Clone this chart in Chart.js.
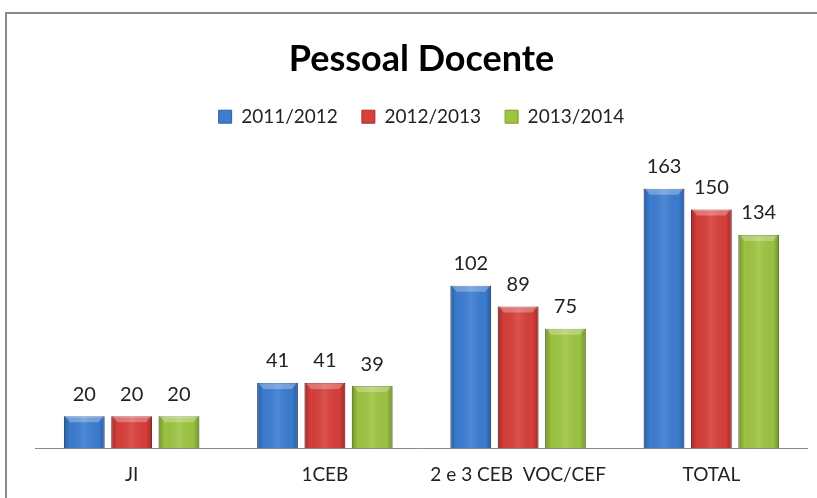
<!DOCTYPE html>
<html>
<head>
<meta charset="utf-8">
<script src="https://cdn.jsdelivr.net/npm/chart.js@4"></script>
<style>
  html, body { margin: 0; padding: 0; background: #fff; overflow: hidden; }
</style>
</head>
<body>
<canvas id="chart" width="817" height="498"></canvas>
<script>
const categories = ['JI', '1CEB', '2 e 3 CEB  VOC/CEF', 'TOTAL'];
const series2011 = [20, 41, 102, 163];
const series2012 = [20, 41, 89, 150];
const series2013 = [20, 39, 75, 134];
const seriesLabels = ['2011/2012', '2012/2013', '2013/2014'];
const colors = ['#3c7dd2', '#d83f3b', '#9dc542'];
const borders = ['#2c5f9f', '#a92e2b', '#789a2e'];

const font = 'Lato, Calibri, "Open Sans", sans-serif';

// grey frame of the chart object (only left and top edges are visible) and the baseline
const frame = {
  id: 'frame',
  beforeDraw(chart) {
    const ctx = chart.ctx;
    ctx.save();
    ctx.fillStyle = '#fff';
    ctx.fillRect(0, 0, chart.width, chart.height);
    ctx.strokeStyle = '#8a8a8a';
    ctx.lineWidth = 2;
    ctx.beginPath();
    ctx.moveTo(6, chart.height);
    ctx.lineTo(6, 13);
    ctx.lineTo(chart.width, 13);
    ctx.stroke();
    const a = chart.chartArea;
    ctx.lineWidth = 1;
    ctx.beginPath();
    ctx.moveTo(a.left, Math.round(a.bottom) + 0.5);
    ctx.lineTo(a.right, Math.round(a.bottom) + 0.5);
    ctx.stroke();
    ctx.restore();
  },
  afterDraw(chart) {
    // keep the area right of the plot clean
    const ctx = chart.ctx;
    const a = chart.chartArea;
    ctx.save();
    ctx.fillStyle = '#fff';
    ctx.fillRect(a.right + 0.5, 15, chart.width - a.right, a.bottom - 16);
    ctx.restore();
  }
};

// value labels over each bar
const valueLabels = {
  id: 'valueLabels',
  afterDatasetsDraw(chart) {
    const ctx = chart.ctx;
    ctx.save();
    ctx.font = '20px ' + font;
    ctx.fillStyle = '#222';
    ctx.textAlign = 'center';
    ctx.textBaseline = 'middle';
    chart.data.datasets.forEach((ds, i) => {
      chart.getDatasetMeta(i).data.forEach((bar, j) => {
        ctx.fillText(ds.data[j], bar.x, bar.y - 22);
      });
    });
    ctx.restore();
  }
};

// shading so the bars look rounded like the original
const barShade = {
  id: 'barShade',
  afterDatasetsDraw(chart) {
    const ctx = chart.ctx;
    ctx.save();
    chart.data.datasets.forEach((ds, i) => {
      chart.getDatasetMeta(i).data.forEach((bar) => {
        const l = bar.x - bar.width / 2, r = bar.x + bar.width / 2;
        const g = ctx.createLinearGradient(l, 0, r, 0);
        g.addColorStop(0, 'rgba(0,0,0,0.25)');
        g.addColorStop(0.15, 'rgba(0,0,0,0.02)');
        g.addColorStop(0.5, 'rgba(255,255,255,0.10)');
        g.addColorStop(0.85, 'rgba(0,0,0,0.02)');
        g.addColorStop(1, 'rgba(0,0,0,0.25)');
        ctx.fillStyle = g;
        ctx.fillRect(l, bar.y, bar.width, bar.base - bar.y);
        // light bevel on top
        ctx.fillStyle = 'rgba(255,255,255,0.28)';
        ctx.beginPath();
        ctx.moveTo(l + 1, bar.y);
        ctx.lineTo(r - 1, bar.y);
        ctx.lineTo(r - 6, bar.y + 6);
        ctx.lineTo(l + 6, bar.y + 6);
        ctx.closePath();
        ctx.fill();
      });
    });
    ctx.restore();
  }
};

new Chart(document.getElementById('chart'), {
  type: 'bar',
  data: {
    labels: categories,
    datasets: [series2011, series2012, series2013].map((d, i) => ({
      label: seriesLabels[i],
      data: d,
      backgroundColor: colors[i],
      borderColor: borders[i],
      borderWidth: 1,
      categoryPercentage: 0.735,
      barPercentage: 0.86
    }))
  },
  options: {
    responsive: false,
    animation: false,
    layout: { padding: { top: 14, left: 35, right: 9, bottom: 5 } },
    scales: {
      x: {
        grid: { display: false },
        border: { display: false },
        ticks: { color: '#222', font: { family: font, size: 19 }, padding: 7 }
      },
      y: {
        display: false,
        min: 0,
        max: 196
      }
    },
    plugins: {
      title: {
        display: true,
        text: 'Pessoal Docente',
        color: '#000',
        font: { family: font, size: 36, weight: 'bold' },
        padding: { top: 24, bottom: 2 }
      },
      legend: {
        labels: {
          color: '#222',
          font: { family: font, size: 19 },
          boxWidth: 13,
          boxHeight: 13,
          padding: 24
        }
      },
      tooltip: { enabled: false }
    }
  },
  plugins: [frame, barShade, valueLabels]
});
</script>
</body>
</html>
